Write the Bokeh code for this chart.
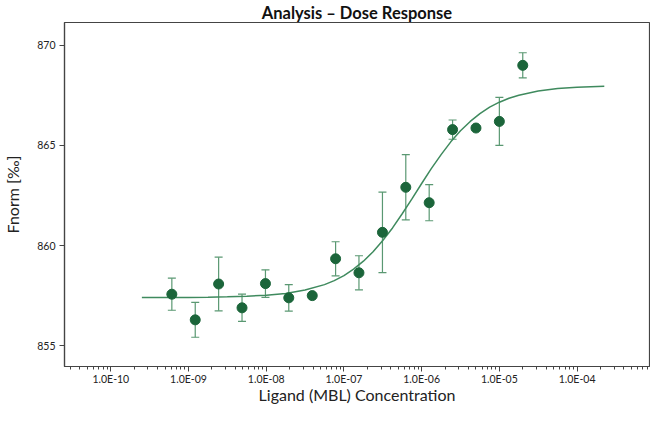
from bokeh.plotting import figure
from bokeh.models import Range1d, FixedTicker, Whisker, TeeHead, ColumnDataSource
from bokeh.embed import file_html
from bokeh.resources import INLINE

# ---- data ----
conc = [6.1e-10, 1.22e-9, 2.44e-9, 4.88e-9, 9.77e-9, 1.95e-8, 3.91e-8, 7.81e-8,
        1.56e-7, 3.13e-7, 6.25e-7, 1.25e-6, 2.5e-6, 5.0e-6, 1.0e-5, 2.0e-5]
fnorm = [857.57, 856.29, 858.08, 856.89, 858.10, 857.39, 857.50, 859.34,
         858.64, 860.66, 862.91, 862.14, 865.79, 865.87, 866.20, 869.00]
err = [0.80, 0.87, 1.34, 0.68, 0.69, 0.66, 0.0, 0.85,
       0.85, 2.01, 1.63, 0.90, 0.48, 0.0, 1.20, 0.63]

fit_conc = [2.51e-10, 5.62e-10, 1.0e-9, 1.78e-9, 3.16e-9, 5.62e-9, 1.0e-8, 1.78e-8,
            3.16e-8, 5.62e-8, 7.5e-8, 1.0e-7, 1.33e-7, 1.78e-7, 2.37e-7, 3.16e-7,
            4.22e-7, 5.62e-7, 7.5e-7, 1.0e-6, 1.33e-6, 1.78e-6, 2.37e-6, 3.16e-6,
            4.22e-6, 5.62e-6, 7.5e-6, 1.0e-5, 1.33e-5, 1.78e-5, 3.16e-5, 5.62e-5,
            1.0e-4, 2.24e-4]
fit_fnorm = [857.40, 857.41, 857.41, 857.42, 857.44, 857.47, 857.52, 857.61,
             857.78, 858.05, 858.25, 858.50, 858.82, 859.22, 859.69, 860.25,
             860.88, 861.59, 862.33, 863.10, 863.84, 864.54, 865.18, 865.73,
             866.20, 866.59, 866.91, 867.16, 867.36, 867.51, 867.72, 867.84,
             867.91, 867.96]

x_tick_values = [1e-10, 1e-9, 1e-8, 1e-7, 1e-6, 1e-5, 1e-4]
x_tick_labels = ["1.0E-10", "1.0E-09", "1.0E-08", "1.0E-07", "1.0E-06", "1.0E-05", "1.0E-04"]
y_tick_values = [855, 860, 865, 870]

title_text = "Analysis \u2013 Dose Response"
x_label = "Ligand (MBL) Concentration"
y_label = "Fnorm [\u2030]"

# ---- styling ----
FONT = "Lato"
AXIS_COLOR = "#444444"
TEXT_COLOR = "#222222"
MARKER_COLOR = "#1b653a"
BAR_COLOR = "#5a9872"
CURVE_COLOR = "#3f8a5e"

p = figure(width=650, height=406, x_axis_type="log",
           x_range=Range1d(10 ** -10.596, 10 ** -3.068),
           y_range=Range1d(853.96, 871.14),
           output_backend="svg", toolbar_location=None,
           min_border_left=55, min_border_right=1, min_border_top=18, min_border_bottom=30)

p.title.text = title_text
p.title.align = "center"
p.title.offset = -6
p.title.text_font = FONT
p.title.text_font_style = "bold"
p.title.text_font_size = "16.5px"
p.title.text_color = "#111111"
p.title.standoff = 0

p.xgrid.visible = False
p.ygrid.visible = False
p.outline_line_color = AXIS_COLOR
p.outline_line_alpha = 1.0
p.outline_line_width = 1.2

minor = [m * 10.0 ** k for k in range(-11, -3) for m in range(2, 10)]
p.xaxis.ticker = FixedTicker(ticks=x_tick_values, minor_ticks=minor)
p.xaxis.major_label_overrides = {v: s for v, s in zip(x_tick_values, x_tick_labels)}
p.yaxis.ticker = FixedTicker(ticks=y_tick_values, minor_ticks=[])

for ax in (p.xaxis[0], p.yaxis[0]):
    ax.axis_line_color = AXIS_COLOR
    ax.axis_line_width = 1.2
    ax.major_tick_line_color = AXIS_COLOR
    ax.minor_tick_line_color = AXIS_COLOR
    ax.major_tick_in = 0
    ax.minor_tick_in = 0
    ax.major_label_text_font = FONT
    ax.major_label_text_font_size = "10.5px"
    ax.major_label_text_color = TEXT_COLOR
    ax.axis_label_text_font = FONT
    ax.axis_label_text_font_size = "16px"
    ax.axis_label_text_font_style = "normal"
    ax.axis_label_text_color = TEXT_COLOR

p.xaxis.axis_label = x_label
p.xaxis.major_tick_out = 5
p.xaxis.minor_tick_out = 3
p.xaxis.major_label_standoff = 1
p.xaxis.axis_label_standoff = -3

p.yaxis.axis_label = y_label
p.yaxis.major_tick_out = 5
p.yaxis.minor_tick_out = 0
p.yaxis.major_label_standoff = 4
p.yaxis.axis_label_standoff = 12

# fitted curve
p.line(fit_conc, fit_fnorm, line_color=CURVE_COLOR, line_width=1.5)

# error bars
bx = [c for c, e in zip(conc, err) if e > 0]
bu = [f + e for f, e in zip(fnorm, err) if e > 0]
bl = [f - e for f, e in zip(fnorm, err) if e > 0]
esrc = ColumnDataSource(dict(base=bx, upper=bu, lower=bl))
w = Whisker(base="base", upper="upper", lower="lower", source=esrc,
            line_color=BAR_COLOR, line_width=1.2,
            upper_head=TeeHead(size=8, line_color=BAR_COLOR, line_width=1.2),
            lower_head=TeeHead(size=8, line_color=BAR_COLOR, line_width=1.2))
p.add_layout(w)

# data points
p.scatter(conc, fnorm, size=10, fill_color=MARKER_COLOR, line_color=MARKER_COLOR)

open("out.html", "w").write(file_html(p, INLINE))
